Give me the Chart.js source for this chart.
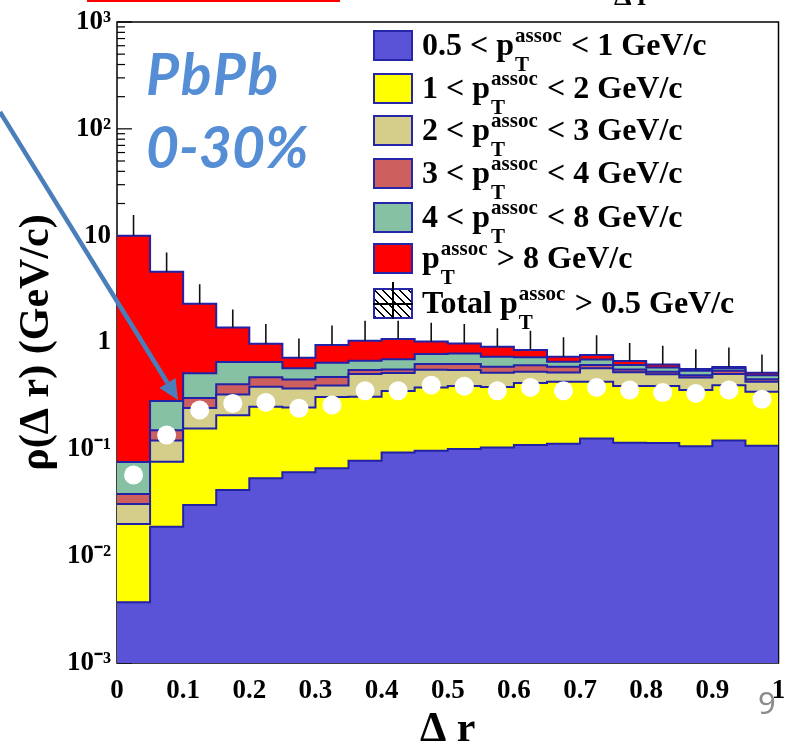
<!DOCTYPE html>
<html><head><meta charset="utf-8">
<script src="https://cdn.jsdelivr.net/npm/chart.js@4/dist/chart.umd.min.js"></script>
<style>
html,body{margin:0;padding:0;background:#fff;width:788px;height:751px;overflow:hidden;}
#wrap{position:relative;width:788px;height:751px;}
#c{position:absolute;left:0;top:0;}
.txt{position:absolute;white-space:nowrap;}
.leg{position:absolute;left:422px;font-family:'Liberation Serif','Times New Roman',serif;font-weight:bold;font-size:32px;line-height:30px;color:#000;white-space:nowrap;}
.box{position:absolute;left:373px;width:40px;height:31px;border:2px solid #2626a8;box-sizing:border-box;}
.ss{display:inline-block;position:relative;width:49px;height:0;}
.ss span{position:absolute;left:1px;font-size:21px;line-height:20px;}
.ss .su{top:-30px}
.ss .sb{top:-1px}
.pb{position:absolute;left:146px;font-family:Lato,'Open Sans',sans-serif;font-style:italic;font-weight:bold;font-size:57px;line-height:56px;color:#558ed5;white-space:nowrap;}
</style></head>
<body><div id="wrap">
<canvas id="c" width="788" height="751" style="width:788px;height:751px"></canvas>
</div>
<script>
// ---- data ----
const binEdges = [0,0.05,0.1,0.15,0.2,0.25,0.3,0.35,0.4,0.45,0.5,0.55,0.6,0.65,0.7,0.75,0.8,0.85,0.9,0.95,1.0];
const xTickLabels = ['0','0.1','0.2','0.3','0.4','0.5','0.6','0.7','0.8','0.9','1'];
const yTickValues = [0.001,0.01,0.1,1,10,100,1000];
const yTickLabels = ['10\u207B\u00B3','10\u207B\u00B2','10\u207B\u00B9','1','10','10\u00B2','10\u00B3'];

const pt05to1 = [0.0037,0.0189,0.0301,0.0416,0.0536,0.061,0.0664,0.0782,0.0933,0.097,0.1007,0.104,0.110,0.113,0.126,0.115,0.1146,0.107,0.121,0.108];
const pt1to2  = [0.0163,0.0577,0.127,0.167,0.197,0.186,0.242,0.232,0.258,0.283,0.290,0.279,0.307,0.316,0.303,0.276,0.276,0.252,0.278,0.238];
const pt2to3  = [0.0108,0.0444,0.087,0.118,0.134,0.125,0.087,0.196,0.166,0.176,0.161,0.138,0.115,0.094,0.144,0.135,0.115,0.112,0.107,0.083];
const pt3to4  = [0.0074,0.030,0.059,0.079,0.087,0.078,0.079,0.046,0.043,0.072,0.076,0.072,0.079,0.070,0.042,0.034,0.026,0.024,0.037,0.023];
const pt4to8  = [0.0378,0.132,0.211,0.253,0.187,0.123,0.171,0.123,0.135,0.152,0.163,0.142,0.115,0.066,0.080,0.055,0.053,0.048,0.030,0.043];
const ptAbove8= [9.92,4.30,1.79,0.72,0.313,0.146,0.301,0.365,0.381,0.24,0.189,0.177,0.123,0.076,0.067,0.055,0.039,0.021,0.016,0.026];
const totalErrUp = [5.6,2.38,1.20,0.66,0.52,0.37,0.50,0.56,0.52,0.51,0.51,0.45,0.44,0.385,0.41,0.32,0.31,0.30,0.31,0.25];
const whiteDots = [0.0575,0.136,0.233,0.269,0.275,0.242,0.26,0.353,0.353,0.399,0.39,0.353,0.38,0.353,0.38,0.359,0.341,0.334,0.359,0.294];

const layerNames = ['0.5 < pT assoc < 1 GeV/c','1 < pT assoc < 2 GeV/c','2 < pT assoc < 3 GeV/c','3 < pT assoc < 4 GeV/c','4 < pT assoc < 8 GeV/c','pT assoc > 8 GeV/c'];
const layerColors = ['#5a53d8','#ffff00','#d5cd8a','#cd5f5f','#86c1a3','#ff0000'];
const outlineColor = '#2222a6';

// ---- build stacked step datasets ----
const layers = [pt05to1,pt1to2,pt2to3,pt3to4,pt4to8,ptAbove8];
const cumul = [];
let run = pt05to1.map(()=>0);
layers.forEach(l=>{ run = run.map((v,i)=>v+l[i]); cumul.push(run.slice()); });
const centers = binEdges.slice(0,-1).map((e,i)=>(e+binEdges[i+1])/2);
function stepData(arr){
  const d = arr.map((v,i)=>({x:binEdges[i],y:v}));
  d.push({x:binEdges[binEdges.length-1],y:arr[arr.length-1]});
  return d;
}
const datasets = layers.map((l,i)=>({
  type:'line', label:layerNames[i], data:stepData(cumul[i]), stepped:'before',
  borderColor:outlineColor, borderWidth:2, backgroundColor:layerColors[i],
  fill: i===0 ? 'start' : '-1', pointRadius:0, order:2
}));
const total = cumul[cumul.length-1];
const errData = [];
centers.forEach((c,i)=>{ errData.push({x:c,y:total[i]}); errData.push({x:c,y:total[i]+totalErrUp[i]}); errData.push({x:c,y:null}); });
datasets.push({type:'line', label:'Total pT assoc > 0.5 GeV/c', data:errData, borderColor:'#111', borderWidth:1.6, pointRadius:0, fill:false, spanGaps:false, order:1});
datasets.push({type:'line', label:'dots', data:centers.map((c,i)=>({x:c,y:whiteDots[i]})), showLine:false, pointRadius:9.5, pointBackgroundColor:'#fff', pointBorderColor:'#fff', pointBorderWidth:0, fill:false, order:0});

const serif = "'Liberation Serif','Times New Roman',serif";
function isMajor(v){ return yTickValues.some(t=>Math.abs(Math.log10(t)-Math.log10(v))<1e-6); }

const frameTicks = {
  id:'frameTicks',
  beforeDatasetsDraw(chart){
    const {ctx, chartArea:a, scales:{y}} = chart;
    ctx.save();
    ctx.strokeStyle = '#000'; ctx.lineWidth = 1.5;
    ctx.strokeRect(a.left, a.top, a.right-a.left, a.bottom-a.top);
    ctx.lineWidth = 1.2;
    y.ticks.forEach(t=>{
      const p = y.getPixelForValue(t.value);
      ctx.beginPath(); ctx.moveTo(a.left,p); ctx.lineTo(a.left+(isMajor(t.value)?15:8),p); ctx.stroke();
    });
    ctx.restore();
  }
};

new Chart(document.getElementById('c'), {
  data:{datasets},
  options:{
    responsive:false, devicePixelRatio:1, animation:false,
    layout:{padding:{left:0,top:22,right:3,bottom:0}},
    plugins:{legend:{display:false}, tooltip:{enabled:false}},
    scales:{
      x:{type:'linear', min:0, max:1, offset:false,
        grid:{display:false, drawTicks:false}, border:{display:false},
        ticks:{stepSize:0.1, autoSkip:false, maxRotation:0, padding:12, color:'#000',
          font:{family:serif, weight:'bold', size:27}, callback:(v,i)=>xTickLabels[i]},
        title:{display:true, text:'\u0394 r', color:'#000', font:{family:serif, weight:'bold', size:42, lineHeight:1}, padding:{top:0,bottom:0}},
        afterFit:s=>{ s.height = 88; s.paddingLeft = 0; s.paddingRight = 0; }
      },
      y:{type:'logarithmic', min:0.001, max:1000,
        grid:{display:false, drawTicks:false}, border:{display:false},
        afterBuildTicks:s=>{
          const t=[];
          for(let e=-3;e<3;e++){ for(let m=1;m<10;m++){ t.push({value:m*Math.pow(10,e)}); } }
          t.push({value:1000});
          s.ticks=t;
        },
        ticks:{autoSkip:false, padding:6, color:'#000', font:{family:serif, weight:'bold', size:27},
          callback:(v)=>{ const k=yTickValues.findIndex(t=>Math.abs(Math.log10(t)-Math.log10(v))<1e-6); return k>=0?yTickLabels[k]:''; }},
        title:{display:true, text:'\u03C1(\u0394 r) (GeV/c)', color:'#000', font:{family:serif, weight:'bold', size:42, lineHeight:1}, padding:{top:16,bottom:0}},
        afterFit:s=>{ s.width = 117; s.paddingTop = 0; s.paddingBottom = 0; }
      }
    }
  },
  plugins:[frameTicks]
});

// ---- overlays: legend, labels, arrow ----
const wrap = document.getElementById('wrap');
function add(html){ wrap.insertAdjacentHTML('beforeend', html); }
const ss = '<span class="ss"><span class="su">assoc</span><span class="sb">T</span></span>';
const legendRows = [
  {top:30, fill:layerColors[0], html:'0.5 &lt; p'+ss+' &lt; 1 GeV/c'},
  {top:73, fill:layerColors[1], html:'1 &lt; p'+ss+' &lt; 2 GeV/c'},
  {top:115, fill:layerColors[2], html:'2 &lt; p'+ss+' &lt; 3 GeV/c'},
  {top:158, fill:layerColors[3], html:'3 &lt; p'+ss+' &lt; 4 GeV/c'},
  {top:202, fill:layerColors[4], html:'4 &lt; p'+ss+' &lt; 8 GeV/c'},
  {top:243, fill:layerColors[5], html:'p'+ss+' &gt; 8 GeV/c'},
  {top:288, fill:null, html:'Total p'+ss+' &gt; 0.5 GeV/c'}
];
legendRows.forEach(r=>{
  if(r.fill){
    add(`<div class="box" style="top:${r.top}px;background:${r.fill}"></div>`);
  } else {
    add(`<div class="box" style="top:${r.top}px;background:repeating-linear-gradient(45deg,#000 0 1.4px,#fff 1.4px 6px)"></div>`);
    add(`<div style="position:absolute;left:392px;top:${r.top-6}px;width:1.5px;height:37px;background:#000"></div>`);
    add(`<div style="position:absolute;left:373px;top:${r.top+15}px;width:40px;height:1.5px;background:#000"></div>`);
  }
  add(`<div class="leg" style="top:${r.top-1}px">${r.html}</div>`);
});
add('<div class="pb" style="top:45px;letter-spacing:2px">PbPb</div>');
add('<div class="pb" style="top:118px">0-30%</div>');
add('<div style="position:absolute;left:87px;top:0;width:253px;height:2px;background:#f00"></div>');
add(`<div class="txt" style="left:614px;top:-18px;font-family:${serif};font-weight:bold;font-size:28px;line-height:28px;">\u0394 r</div>`);
add('<div class="txt" style="left:758px;top:686px;font-family:\'Noto Sans\',sans-serif;font-size:31px;line-height:32px;color:#8c8c8c;">9</div>');
// arrow
const x0=0,y0=112,x1=178,y1=400, L=Math.hypot(x1-x0,y1-y0), ux=(x1-x0)/L, uy=(y1-y0)/L;
const bx=x1-20*ux, by=y1-20*uy, nx=-uy, ny=ux;
add(`<svg style="position:absolute;left:0;top:0" width="788" height="751"><line x1="${x0}" y1="${y0}" x2="${bx}" y2="${by}" stroke="#4a7ebb" stroke-width="4.5"/><polygon points="${x1},${y1} ${bx+9.5*nx},${by+9.5*ny} ${bx-9.5*nx},${by-9.5*ny}" fill="#4a7ebb"/></svg>`);
</script>
</body></html>
